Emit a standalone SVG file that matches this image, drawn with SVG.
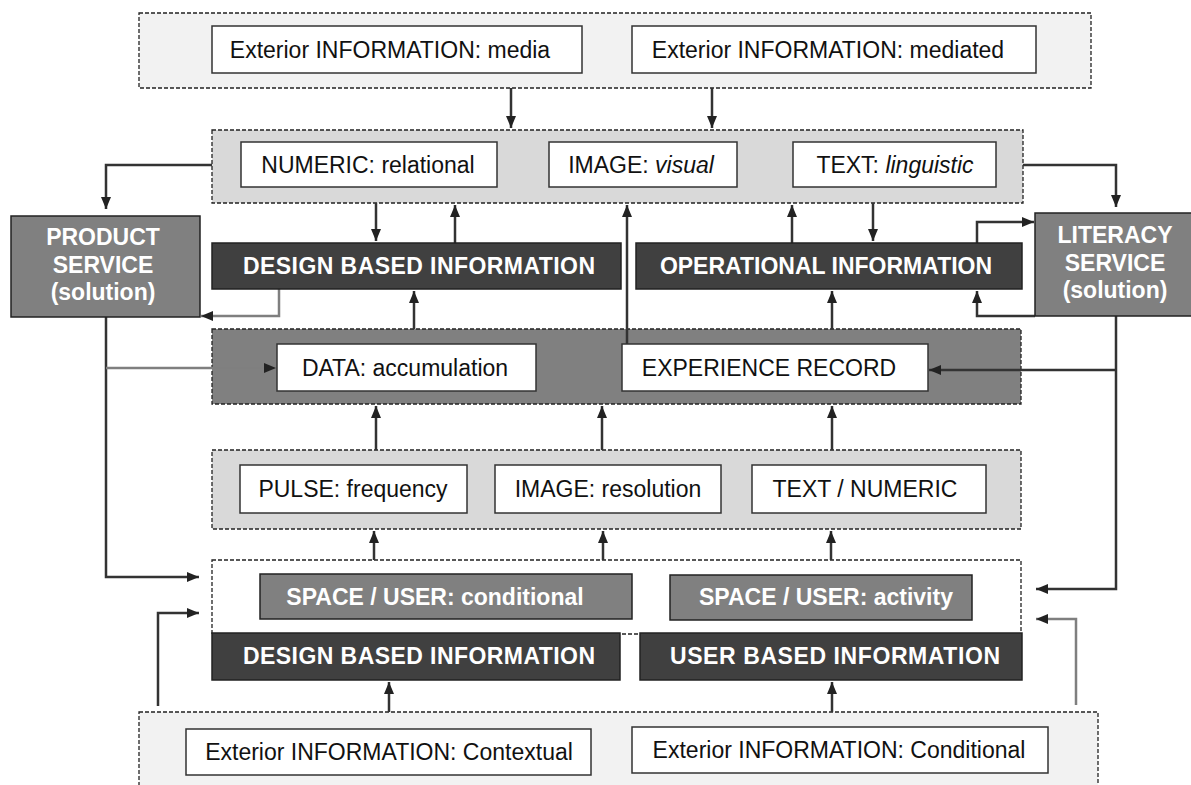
<svg xmlns="http://www.w3.org/2000/svg" width="1191" height="785" viewBox="0 0 1191 785">
<defs>
<marker id="ah" markerUnits="userSpaceOnUse" markerWidth="14" markerHeight="11" refX="12" refY="5" orient="auto"><path d="M0,0 L12,5 L0,10 z" fill="#222"/></marker>
<style>
.cont{stroke:#222;stroke-width:1.3;stroke-dasharray:4 2}
.wbox{fill:#fff;stroke:#333;stroke-width:1.5}
.dbox{fill:#404040;stroke:#222;stroke-width:1.5}
.mbox{fill:#808080;stroke:#222;stroke-width:1.5}
.t{font-family:"Liberation Sans",Arial,sans-serif;font-size:23px;fill:#111;text-anchor:middle}
.b{font-family:"Liberation Sans",Arial,sans-serif;font-size:23px;font-weight:bold;fill:#fff;text-anchor:middle}
.c{fill:none;stroke:#333;stroke-width:2.5}
.g{fill:none;stroke:#7f7f7f;stroke-width:2.5}
</style>
</defs>
<rect width="1191" height="785" fill="#fff"/>
<g id="containers">
<rect id="c-top" class="cont" x="139" y="13" width="952" height="75" fill="#f2f2f2"/>
<rect id="c-forms" class="cont" x="212" y="130" width="811" height="73" fill="#d9d9d9"/>
<rect id="c-data" class="cont" x="212" y="329" width="809" height="75" fill="#808080"/>
<rect id="c-pulse" class="cont" x="212" y="450" width="809" height="79" fill="#d9d9d9"/>
<rect id="c-space" class="cont" x="212" y="560" width="809" height="74" fill="#fff"/>
<rect id="c-bottom" class="cont" x="139" y="712" width="959" height="80" fill="#f2f2f2"/>
</g>
<g id="connectors">
<path class="c" d="M511,88 V128" marker-end="url(#ah)"/>
<path class="c" d="M712,88 V128" marker-end="url(#ah)"/>
<path class="c" d="M212,165 H106 V209" marker-end="url(#ah)"/>
<path class="c" d="M1023,165 H1116 V207" marker-end="url(#ah)"/>
<path class="c" d="M376,203 V241" marker-end="url(#ah)"/>
<path class="c" d="M455,243 V205" marker-end="url(#ah)"/>
<path class="g" d="M279,289 V316 H201" marker-end="url(#ah)"/>
<path class="c" d="M414,329 V291" marker-end="url(#ah)"/>
<path class="c" d="M627,344 V205" marker-end="url(#ah)"/>
<path class="c" d="M792,243 V205" marker-end="url(#ah)"/>
<path class="c" d="M873,203 V241" marker-end="url(#ah)"/>
<path class="c" d="M977,243 V222 H1034" marker-end="url(#ah)"/>
<path class="c" d="M1035,316 H977 V291" marker-end="url(#ah)"/>
<path class="c" d="M832,329 V291" marker-end="url(#ah)"/>
<path class="c" d="M106,317 V577 H199" marker-end="url(#ah)"/>
<path class="g" d="M106,368 H276" marker-end="url(#ah)"/>
<path class="c" d="M1116,316 V589 H1036" marker-end="url(#ah)"/>
<path class="c" d="M1116,370 H929" marker-end="url(#ah)"/>
<path class="c" d="M376,450 V406" marker-end="url(#ah)"/>
<path class="c" d="M602,450 V406" marker-end="url(#ah)"/>
<path class="c" d="M832,450 V406" marker-end="url(#ah)"/>
<path class="c" d="M374,560 V531" marker-end="url(#ah)"/>
<path class="c" d="M603,560 V531" marker-end="url(#ah)"/>
<path class="c" d="M831,560 V531" marker-end="url(#ah)"/>
<path class="c" d="M389,712 V682" marker-end="url(#ah)"/>
<path class="c" d="M832,712 V682" marker-end="url(#ah)"/>
<path class="c" d="M158,706 V613 H199" marker-end="url(#ah)"/>
<path class="g" d="M1076,705 V619 H1036" marker-end="url(#ah)"/>
</g>
<g id="n-media"><rect class="wbox" x="212" y="26" width="370" height="47"/><text class="t" x="390" y="58">Exterior INFORMATION: media</text></g>
<g id="n-mediated"><rect class="wbox" x="632" y="26" width="404" height="47"/><text class="t" x="828" y="58">Exterior INFORMATION: mediated</text></g>
<g id="n-numeric"><rect class="wbox" x="241" y="142" width="256" height="45"/><text class="t" x="368" y="173">NUMERIC: relational</text></g>
<g id="n-image-visual"><rect class="wbox" x="549" y="142" width="188" height="45"/><text class="t" x="641" y="173">IMAGE: <tspan font-style="italic">visual</tspan></text></g>
<g id="n-text-ling"><rect class="wbox" x="793" y="142" width="203" height="45"/><text class="t" x="895" y="173">TEXT: <tspan font-style="italic">linguistic</tspan></text></g>
<g id="n-product"><rect class="mbox" x="11" y="216" width="189" height="101"/><text class="b" x="103" y="245">PRODUCT</text><text class="b" x="103" y="273">SERVICE</text><text class="b" x="103" y="300">(solution)</text></g>
<g id="n-literacy"><rect class="mbox" x="1035" y="213" width="165" height="103"/><text class="b" x="1115" y="243">LITERACY</text><text class="b" x="1115" y="271">SERVICE</text><text class="b" x="1115" y="298">(solution)</text></g>
<g id="n-design-top"><rect class="dbox" x="212" y="243" width="409" height="46"/><text class="b" x="419" y="274" textLength="352" lengthAdjust="spacing">DESIGN BASED INFORMATION</text></g>
<g id="n-operational"><rect class="dbox" x="636" y="243" width="386" height="46"/><text class="b" x="826" y="274">OPERATIONAL INFORMATION</text></g>
<g id="n-data"><rect class="wbox" x="277" y="344" width="259" height="47"/><text class="t" x="405" y="376">DATA: accumulation</text></g>
<g id="n-experience"><rect class="wbox" x="622" y="344" width="306" height="47"/><text class="t" x="769" y="376">EXPERIENCE RECORD</text></g>
<g id="n-pulse"><rect class="wbox" x="240" y="465" width="227" height="48"/><text class="t" x="353" y="497">PULSE: frequency</text></g>
<g id="n-image-res"><rect class="wbox" x="495" y="465" width="226" height="48"/><text class="t" x="608" y="497">IMAGE: resolution</text></g>
<g id="n-textnum"><rect class="wbox" x="752" y="465" width="234" height="48"/><text class="t" x="865" y="497">TEXT / NUMERIC</text></g>
<g id="n-space-cond"><rect class="mbox" x="260" y="574" width="372" height="45"/><text class="b" x="435" y="605">SPACE / USER: conditional</text></g>
<g id="n-space-act"><rect class="mbox" x="670" y="575" width="302" height="45"/><text class="b" x="826" y="605">SPACE / USER: activity</text></g>
<g id="n-design-bottom"><rect class="dbox" x="212" y="633" width="408" height="47"/><text class="b" x="419" y="664" textLength="352" lengthAdjust="spacing">DESIGN BASED INFORMATION</text></g>
<g id="n-user"><rect class="dbox" x="640" y="633" width="382" height="47"/><text class="b" x="835" y="664" textLength="330" lengthAdjust="spacing">USER BASED INFORMATION</text></g>
<g id="n-contextual"><rect class="wbox" x="186" y="729" width="405" height="46"/><text class="t" x="389" y="760">Exterior INFORMATION: Contextual</text></g>
<g id="n-conditional"><rect class="wbox" x="632" y="727" width="416" height="46"/><text class="t" x="839" y="758">Exterior INFORMATION: Conditional</text></g>
</svg>
